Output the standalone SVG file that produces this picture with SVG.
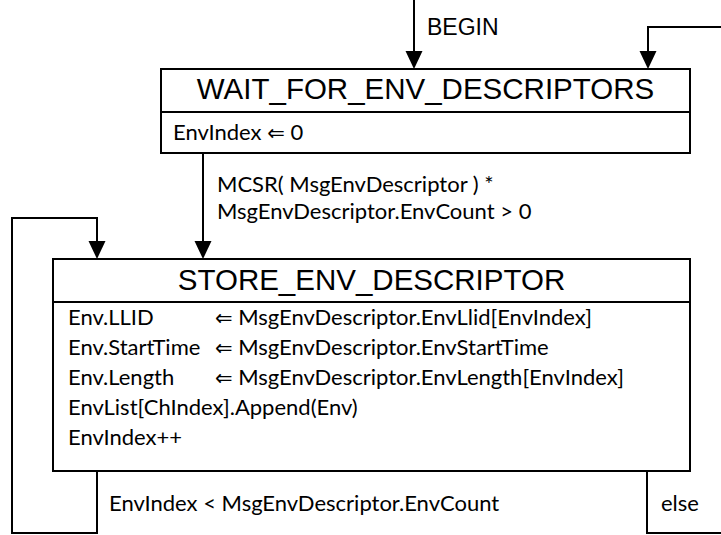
<svg xmlns="http://www.w3.org/2000/svg" width="721" height="535" viewBox="0 0 721 535">
<style>
.box{fill:#fff;stroke:#000;stroke-width:2}
.ln{fill:none;stroke:#000;stroke-width:2}
.title{font-family:"Liberation Sans",Arial,sans-serif;font-size:29.5px;fill:#000;text-anchor:middle}
.lbl{font-family:"Liberation Sans",Arial,sans-serif;font-size:23px;fill:#000}
.body{font-family:Lato,"Open Sans",sans-serif;font-size:22px;fill:#000}
.ar{font-family:"DejaVu Sans",sans-serif;font-size:21px}
</style>
<g id="connectors">
<path class="ln" d="M414 0V52"/>
<polygon points="405.5,51 422.5,51 414,69"/>
<path class="ln" d="M721 27H648V52"/>
<polygon points="639.5,51 656.5,51 648,69"/>
<path class="ln" d="M203 153V242"/>
<polygon points="194.5,241 211.5,241 203,259"/>
<path class="ln" d="M97 471V533H12V218H97V242"/>
<polygon points="88.5,241 105.5,241 97,259"/>
<path class="ln" d="M647 471V533H721"/>
<text class="lbl" x="427" y="35">BEGIN</text>
<text class="body" x="217" y="192">MCSR( MsgEnvDescriptor ) *</text>
<text class="body" x="217" y="219">MsgEnvDescriptor.EnvCount &gt; 0</text>
<text class="body" x="109" y="511">EnvIndex &lt; MsgEnvDescriptor.EnvCount</text>
<text class="body" x="661" y="511">else</text>
</g>
<g id="wait">
<rect class="box" x="161" y="69" width="529" height="84"/>
<path class="ln" d="M161 112H690"/>
<text class="title" x="425.5" y="99">WAIT_FOR_ENV_DESCRIPTORS</text>
<text class="body" x="173" y="140">EnvIndex <tspan class="ar">⇐</tspan> 0</text>
</g>
<g id="store">
<rect class="box" x="53" y="259" width="637" height="212"/>
<path class="ln" d="M53 302H690"/>
<text class="title" x="371.5" y="290">STORE_ENV_DESCRIPTOR</text>
<text class="body" x="68" y="325">Env.LLID</text>
<text class="body" x="215" y="325"><tspan class="ar">⇐</tspan> MsgEnvDescriptor.EnvLlid[EnvIndex]</text>
<text class="body" x="68" y="355">Env.StartTime</text>
<text class="body" x="215" y="355"><tspan class="ar">⇐</tspan> MsgEnvDescriptor.EnvStartTime</text>
<text class="body" x="68" y="385">Env.Length</text>
<text class="body" x="215" y="385"><tspan class="ar">⇐</tspan> MsgEnvDescriptor.EnvLength[EnvIndex]</text>
<text class="body" x="68" y="415">EnvList[ChIndex].Append(Env)</text>
<text class="body" x="68" y="445">EnvIndex++</text>
</g>
</svg>
